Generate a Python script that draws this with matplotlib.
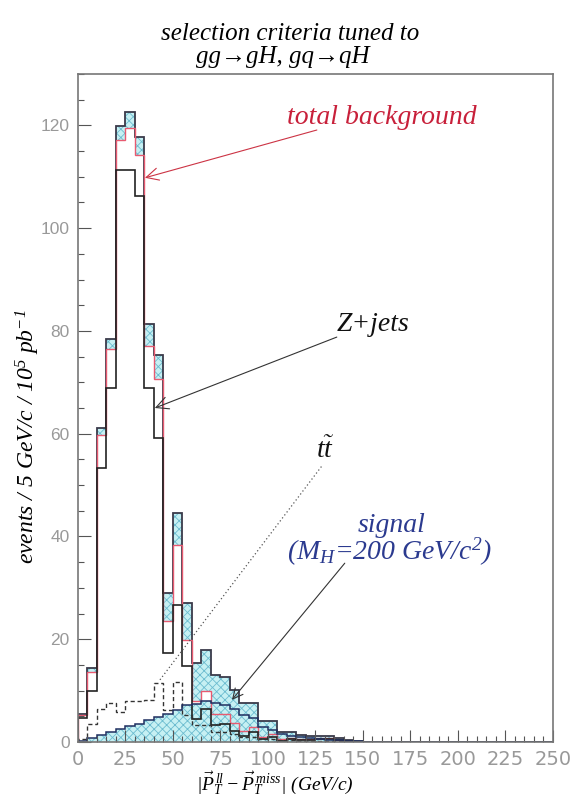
import numpy as np
import matplotlib
matplotlib.use('Agg')
import matplotlib.pyplot as plt
from matplotlib.ticker import MultipleLocator

plt.rcParams['font.family'] = ['Liberation Sans', 'DejaVu Sans']
plt.rcParams['mathtext.fontset'] = 'custom'
plt.rcParams['mathtext.rm'] = 'Liberation Serif:italic'
plt.rcParams['mathtext.it'] = 'Liberation Serif:italic'
plt.rcParams['mathtext.bf'] = 'Liberation Serif:italic:bold'
plt.rcParams['hatch.linewidth'] = 0.6

serif = ['Liberation Serif', 'DejaVu Serif']

# 5 GeV/c bins, 0 - 250 GeV/c
bin_edges = np.arange(0, 255, 5)

# events / bin (bins past the list are empty)
zjets = [4.6, 10.0, 53.3, 68.9, 111.4, 111.4, 106.2, 68.9, 59.2, 17.3,
         26.7, 14.7, 4.5, 6.5, 3.4, 3.5, 2.2, 1.2, 1.9, 0.5,
         1.0, 0.2, 0.5, 0.3, 0.3, 0.5, 0.6, 0.3, 0.1]
ttbar = [0.6, 3.6, 6.5, 7.6, 5.8, 8.0, 8.0, 8.2, 11.4, 6.2,
         11.7, 5.2, 3.4, 3.4, 2.0, 2.0, 1.5, 1.0, 1.0, 0.5,
         0.6, 0.3, 0.3, 0.2, 0.2, 0.2, 0.2, 0.1, 0.1]
signal = [0.2, 0.8, 1.4, 2.0, 2.6, 3.2, 3.6, 4.2, 4.8, 5.4,
          6.2, 7.2, 7.4, 8.0, 7.6, 7.2, 6.4, 5.3, 4.6, 3.0,
          2.4, 1.5, 1.2, 0.9, 0.7, 0.5, 0.4, 0.3, 0.2, 0.1]

nbins = len(bin_edges) - 1
def pad(v):
  a = np.zeros(nbins)
  a[:len(v)] = v
  return a

zjets = pad(zjets)
ttbar = pad(ttbar)
signal = pad(signal)
total_bkg = zjets + ttbar
total = total_bkg + signal

fig = plt.figure(figsize=(5.77, 8.0), dpi=100)
ax = fig.add_axes([0.135, 0.0725, 0.823, 0.835])

hatch_kw = dict(fill=True, facecolor='#c6f0f3', edgecolor='#6cbcd0', hatch='xxxx', linewidth=0)
ax.stairs(total, bin_edges, **hatch_kw)
ax.stairs(total_bkg, bin_edges, fill=True, facecolor='white', linewidth=0)
ax.stairs(signal, bin_edges, **hatch_kw)

ax.stairs(total, bin_edges, color='#3a3a4a', lw=1.3)
ax.stairs(total_bkg, bin_edges, color='#e85a70', lw=1.0)
ax.stairs(zjets, bin_edges, color='#222222', lw=1.2)
ax.stairs(ttbar, bin_edges, color='#333333', lw=1.0, linestyle=(0, (3, 2)))
ax.stairs(signal, bin_edges, color='#1f2f60', lw=1.1)

ax.set_xlim(0, 250)
ax.set_ylim(0, 130)
ax.xaxis.set_major_locator(MultipleLocator(25))
ax.xaxis.set_minor_locator(MultipleLocator(5))
ax.yaxis.set_major_locator(MultipleLocator(20))
ax.yaxis.set_minor_locator(MultipleLocator(5))
ax.tick_params(which='both', direction='in', top=False, right=False,
               color='#555555', labelcolor='#999999', width=0.8)
ax.tick_params(which='major', length=9, pad=6)
ax.tick_params(which='minor', length=4.5)
ax.tick_params(axis='x', labelsize=14, labelfontfamily='DejaVu Sans')
ax.tick_params(axis='y', labelsize=12.5, labelfontfamily='Liberation Sans')
for s in ax.spines.values():
  s.set_color('#777777')
  s.set_linewidth(1.2)

# labels
ax.text(0.415, -0.062, r'$|\vec{P}_T^{\,ll}- \vec{P}_T^{\,miss}|$ (GeV/c)', transform=ax.transAxes,
        family=serif, style='italic', fontsize=14, ha='center', va='center')
ax.text(-0.105, 0.457, r'events / 5 GeV/c / 10$^5$ pb$^{-1}$', transform=ax.transAxes,
        family=serif, style='italic', fontsize=17, ha='center', va='center', rotation=90)
fig.text(0.503, 0.958, 'selection criteria tuned to', family=serif, style='italic',
         fontsize=18, ha='center', va='center')
fig.text(0.49, 0.929, 'gg\u2192gH, gq\u2192qH', family=serif, style='italic',
         fontsize=18, ha='center', va='center')

# annotations
ax.annotate('', xy=(35.3, 109.8), xytext=(125.8, 119.1),
            arrowprops=dict(arrowstyle='->', color='#cc3344', lw=0.8, shrinkA=0, shrinkB=0, mutation_scale=22))
ax.text(160, 121.6, 'total background', color='#c8203a', family=serif, style='italic',
        fontsize=20, ha='center', va='center')

ax.annotate('', xy=(40.5, 65.0), xytext=(136.3, 78.8),
            arrowprops=dict(arrowstyle='->', color='#333333', lw=0.8, shrinkA=0, shrinkB=0, mutation_scale=22))
ax.text(155.3, 81.2, 'Z+jets', color='#111111', family=serif, style='italic',
        fontsize=20, ha='center', va='center')

ax.plot([43.2, 128.4], [12.1, 53.7], color='#555555', lw=0.9, linestyle=(0, (1, 2)))
ax.text(130.5, 56.6, r'$t\tilde{t}$', color='#111111', fontsize=20, ha='center', va='center')

ax.annotate('', xy=(81.1, 8.2), xytext=(140.5, 34.8),
            arrowprops=dict(arrowstyle='->', color='#333333', lw=0.8, shrinkA=0, shrinkB=0, mutation_scale=18))
ax.text(165.3, 42.2, 'signal', color='#2b3a8f', family=serif, style='italic',
        fontsize=20, ha='center', va='center')
ax.text(164.2, 37.0, r'(M$_H$=200 GeV/c$^2$)', color='#2b3a8f', family=serif, style='italic',
        fontsize=20, ha='center', va='center')

fig.savefig('out.png', dpi=100)
